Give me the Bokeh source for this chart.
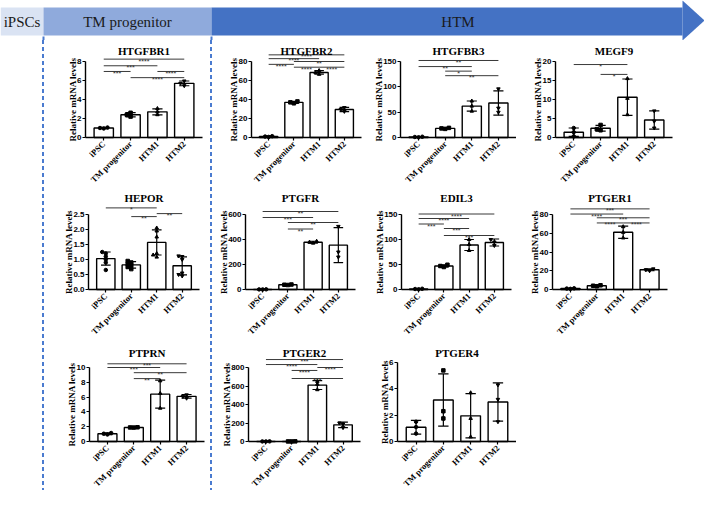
import math
import numpy as np
from bokeh.plotting import figure
from bokeh.models import Range1d, FixedTicker, PrintfTickFormatter, Label, Div, Spacer
from bokeh.layouts import row, column
from bokeh.core.properties import value
from bokeh.embed import file_html
from bokeh.resources import INLINE

# ---------------- data ----------------
categories = ["iPSC", "TM progenitor", "HTM1", "HTM2"]
stages = ["iPSCs", "TM progenitor", "HTM"]
stage_colors = ["#dae3f3", "#8faadc", "#4472c4"]
y_title = "Relative mRNA levels"

htgfbr1_mean = [1.0, 2.4, 2.7, 5.7]
htgfbr1_sd = [0.06, 0.22, 0.32, 0.25]
htgfbr1_points = [[0.95, 1.0, 1.05], [2.2, 2.4, 2.6], [2.4, 2.7, 3.05], [5.45, 5.7, 5.95]]
htgfbr1_ticks = [0, 2, 4, 6, 8]
htgfbr1_sig = [(1, 4, 8.25, "****"), (1, 3, 7.55, "***"), (1, 2, 6.95, "***"),
               (3, 4, 6.95, "****"), (2, 4, 6.3, "****")]

htgfbr2_mean = [1.0, 37.0, 68.5, 29.5]
htgfbr2_sd = [0.4, 1.0, 1.8, 2.2]
htgfbr2_points = [[0.6, 1.0, 1.4], [36.0, 37.0, 38.0], [66.5, 68.5, 70.5], [27.5, 29.5, 31.5]]
htgfbr2_ticks = [0, 20, 40, 60, 80]
htgfbr2_sig = [(1, 4, 87, "****"), (1, 3, 83, "****"), (2, 4, 80, "**"),
               (1, 2, 77, "****"), (2, 3, 74, "****"), (3, 4, 74, "****")]

htgfbr3_mean = [1.0, 18.0, 62.0, 68.0]
htgfbr3_sd = [0.5, 1.0, 10.0, 24.0]
htgfbr3_points = [[0.5, 1.0, 1.5], [17.0, 18.0, 19.0], [52.0, 62.0, 72.0], [50.0, 58.0, 96.0]]
htgfbr3_ticks = [0, 50, 100, 150]
htgfbr3_sig = [(1, 4, 152, "**"), (1, 3, 140, "**"), (2, 3, 131, "*"), (2, 4, 122, "**")]

megf9_mean = [1.4, 2.45, 10.6, 4.6]
megf9_sd = [1.1, 0.75, 4.8, 2.4]
megf9_points = [[0.3, 1.4, 2.5], [1.9, 2.2, 3.3], [6.0, 10.3, 15.5], [2.5, 4.3, 7.0]]
megf9_ticks = [0, 5, 10, 15, 20]
megf9_sig = [(1, 3, 19.2, "*"), (2, 3, 16.6, "*")]

hepor_mean = [1.03, 0.82, 1.57, 0.79]
hepor_sd = [0.22, 0.11, 0.42, 0.3]
hepor_points = [[0.65, 0.9, 1.0, 1.1, 1.2, 1.25], [0.68, 0.75, 0.8, 0.85, 0.9, 0.95],
                [1.08, 1.15, 1.2, 1.75, 1.95, 2.05], [0.45, 0.5, 0.55, 1.0, 1.1, 1.12]]
hepor_ticks = [0, 0.5, 1.0, 1.5, 2.0, 2.5]
hepor_sig = [(1, 3, 2.72, "*"), (3, 4, 2.53, "**"), (2, 3, 2.43, "**")]

ptgfr_mean = [1.0, 38.0, 378.0, 355.0]
ptgfr_sd = [0.5, 2.0, 8.0, 140.0]
ptgfr_points = [[0.5, 1.0, 1.5], [36.0, 38.0, 40.0], [371.0, 378.0, 386.0], [260.0, 300.0, 505.0]]
ptgfr_ticks = [0, 200, 400, 600]
ptgfr_sig = [(1, 4, 624, "**"), (1, 3, 576, "***"), (2, 4, 536, "**"), (2, 3, 484, "**")]

edil3_mean = [1.0, 47.0, 89.0, 94.0]
edil3_sd = [0.5, 2.5, 11.0, 7.0]
edil3_points = [[0.5, 1.0, 1.5], [45.0, 47.0, 49.5], [78.0, 90.0, 100.0], [88.0, 95.0, 100.0]]
edil3_ticks = [0, 50, 100, 150]
edil3_sig = [(1, 4, 151, "****"), (1, 3, 142, "****"), (1, 2, 131, "***"),
             (2, 3, 122, "***"), (2, 4, 108, "***")]

ptger1_mean = [1.0, 4.0, 61.0, 21.0]
ptger1_sd = [0.3, 0.6, 6.5, 1.0]
ptger1_points = [[0.7, 1.0, 1.3], [3.5, 4.0, 4.5], [55.0, 61.0, 67.0], [20.0, 21.0, 22.0]]
ptger1_ticks = [0, 20, 40, 60, 80]
ptger1_sig = [(1, 4, 86, "***"), (1, 3, 80.5, "****"), (2, 4, 76.5, "***"),
              (2, 3, 71, "****"), (3, 4, 71, "****")]

ptprn_mean = [1.05, 1.9, 6.4, 6.1]
ptprn_sd = [0.12, 0.03, 1.9, 0.25]
ptprn_points = [[0.95, 1.05, 1.15], [1.88, 1.9, 1.92], [4.5, 6.5, 8.2], [5.85, 6.1, 6.3]]
ptprn_ticks = [0, 2, 4, 6, 8, 10]
ptprn_sig = [(1, 4, 10.5, "***"), (1, 3, 10.0, "***"), (2, 4, 9.3, "**"), (2, 3, 8.5, "**")]

ptger2_mean = [1.0, 1.0, 610.0, 180.0]
ptger2_sd = [0.3, 0.3, 48.0, 30.0]
ptger2_points = [[0.5, 1.0, 1.5], [0.5, 1.0, 1.5], [560.0, 620.0, 650.0], [150.0, 190.0, 200.0]]
ptger2_ticks = [0, 200, 400, 600, 800]
ptger2_sig = [(1, 4, 886, "***"), (1, 3, 832, "****"), (3, 4, 800, "****"),
              (2, 3, 768, "****"), (2, 4, 681, "***")]

ptger4_mean = [1.08, 3.15, 1.95, 3.0]
ptger4_sd = [0.52, 1.98, 1.68, 1.45]
ptger4_points = [[0.6, 1.1, 1.5], [1.75, 2.3, 5.4], [0.35, 1.75, 3.7], [1.5, 3.2, 4.3]]
ptger4_ticks = [0, 2, 4, 6]
ptger4_sig = []

# ---------------- layout / style ----------------
SERIF = "Liberation Serif"
SANS = "Liberation Sans"
SPACER_W = 42
DASH_W = 2
COL_W = [166, 154, 150, 188]
HEADER_H = 40
ROW_H = [147, 155, 148]
ROW_ZERO = [97, 102, 99]
ROW_TOP = [21, 27, 25]
TOTAL_W = SPACER_W + 2 * DASH_W + sum(COL_W)
BODY_H = sum(ROW_H)
X_LO, X_HI = 0.32, 4.68
MARKERS = ["circle", "square", "triangle", "inverted_triangle"]
DASH_COLOR = "#4a7bd0"
YTICK_PX = 8.0


def spread(vals, span):
    order = np.argsort(vals)
    offs = [0.0] * len(vals)
    placed = []
    for k in order:
        v = vals[k]
        for o in (0.0, -0.14, 0.14, -0.28, 0.28):
            if all(abs(v - pv) > 0.035 * span or abs(o - po) > 0.12 for pv, po in placed):
                offs[k] = o
                break
        placed.append((v, offs[k]))
    return offs


def label_width(s):
    return sum((0.278 if ch == "." else 0.556) for ch in s) * YTICK_PX


def make_panel(name, mean, sd, points, ticks, sig, fmt, r, col_w, left, frame_w, top_px=None):
    height = ROW_H[r]
    zero = ROW_ZERO[r]
    top = ROW_TOP[r] if top_px is None else top_px
    # the whole canvas is the plotting frame; axes are pinned inside it
    sx = frame_w / (X_HI - X_LO)
    sy = (zero - top) / ticks[-1]
    x_range = Range1d(X_LO - left / sx, X_HI + (col_w - left - frame_w) / sx)
    y_range = Range1d(-(height - zero) / sy, zero / sy)
    p = figure(width=col_w, height=height, x_range=x_range, y_range=y_range,
               output_backend="svg", toolbar_location=None, title=None, min_border=0)
    p.xgrid.visible = False
    p.ygrid.visible = False
    p.outline_line_color = None
    p.background_fill_color = "white"
    p.border_fill_color = "white"

    xs = [1, 2, 3, 4]
    p.vbar(x=xs, top=mean, bottom=0, width=0.72, fill_color="white",
           line_color="black", line_width=1.4)
    lo = [m - s for m, s in zip(mean, sd)]
    hi = [m + s for m, s in zip(mean, sd)]
    p.segment(x0=xs, y0=lo, x1=xs, y1=hi, line_color="black", line_width=1.2)
    cx0 = [x - 0.19 for x in xs]
    cx1 = [x + 0.19 for x in xs]
    p.segment(x0=cx0, y0=hi, x1=cx1, y1=hi, line_color="black", line_width=1.2)
    p.segment(x0=cx0, y0=lo, x1=cx1, y1=lo, line_color="black", line_width=1.2)
    for i, pts in enumerate(points):
        offs = spread(pts, ticks[-1])
        p.scatter([xs[i] + o for o in offs], pts, marker=MARKERS[i], size=3.5,
                  color="black")
    if sig:
        a = [s[0] for s in sig]
        b = [s[1] for s in sig]
        yv = [s[2] for s in sig]
        lab = [s[3] for s in sig]
        p.segment(x0=a, y0=yv, x1=b, y1=yv, line_color="#222222", line_width=0.9)
        p.text(x=[(i + j) / 2 for i, j in zip(a, b)], y=yv, text=lab, text_align="center",
               text_baseline="alphabetic", y_offset=2, text_font=value(SANS),
               text_font_size="7px", text_color="#333333")
    p.add_layout(Label(x=2.5, y=y_range.end, text=name, text_align="center", text_baseline="top",
                       y_offset=-4, text_font=SERIF, text_font_style="bold",
                       text_font_size="11px", text_color="black"))
    wmax = max(label_width(fmt % t) for t in ticks)
    p.add_layout(Label(x=X_LO, y=ticks[-1] / 2, text=y_title, angle=math.pi / 2,
                       x_offset=-(wmax + 8.5), text_align="center", text_baseline="middle",
                       text_font=SERIF, text_font_style="bold", text_font_size="9px",
                       text_color="black"))

    xa = p.xaxis[0]
    xa.fixed_location = 0
    xa.bounds = (X_LO, X_HI)
    xa.ticker = FixedTicker(ticks=xs, minor_ticks=[])
    xa.major_label_overrides = {x: c for x, c in zip(xs, categories)}
    xa.major_label_orientation = math.pi / 4
    xa.major_label_text_font = SERIF
    xa.major_label_text_font_style = "bold"
    xa.major_label_text_font_size = "8.5px"
    xa.major_label_text_color = "black"
    xa.major_label_standoff = 2
    xa.axis_line_width = 1.4
    xa.axis_line_color = "black"
    xa.major_tick_out = 3
    xa.major_tick_in = 0
    xa.major_tick_line_width = 1.2
    xa.minor_tick_line_color = None

    ya = p.yaxis[0]
    ya.fixed_location = X_LO
    ya.bounds = (0, ticks[-1])
    ya.ticker = FixedTicker(ticks=ticks, minor_ticks=[])
    ya.formatter = PrintfTickFormatter(format=fmt)
    ya.major_label_text_font = SANS
    ya.major_label_text_font_style = "bold"
    ya.major_label_text_font_size = "%gpx" % YTICK_PX
    ya.major_label_text_color = "black"
    ya.major_label_standoff = 1
    ya.axis_line_width = 1.4
    ya.axis_line_color = "black"
    ya.major_tick_out = 3
    ya.major_tick_in = 0
    ya.major_tick_line_width = 1.2
    ya.minor_tick_line_color = None
    return p


p1 = make_panel("HTGFBR1", htgfbr1_mean, htgfbr1_sd, htgfbr1_points, htgfbr1_ticks, htgfbr1_sig, "%d", 0, COL_W[0], 41, 117)
p2 = make_panel("HTGFBR2", htgfbr2_mean, htgfbr2_sd, htgfbr2_points, htgfbr2_ticks, htgfbr2_sig, "%d", 0, COL_W[1], 39, 110)
p3 = make_panel("HTGFBR3", htgfbr3_mean, htgfbr3_sd, htgfbr3_points, htgfbr3_ticks, htgfbr3_sig, "%d", 0, COL_W[2], 34, 116)
p4 = make_panel("MEGF9", megf9_mean, megf9_sd, megf9_points, megf9_ticks, megf9_sig, "%d", 0, COL_W[3], 39, 117)
p5 = make_panel("HEPOR", hepor_mean, hepor_sd, hepor_points, hepor_ticks, hepor_sig, "%.1f", 1, COL_W[0], 44, 111)
p6 = make_panel("PTGFR", ptgfr_mean, ptgfr_sd, ptgfr_points, ptgfr_ticks, ptgfr_sig, "%d", 1, COL_W[1], 33, 110)
p7 = make_panel("EDIL3", edil3_mean, edil3_sd, edil3_points, edil3_ticks, edil3_sig, "%d", 1, COL_W[2], 35, 110)
p8 = make_panel("PTGER1", ptger1_mean, ptger1_sd, ptger1_points, ptger1_ticks, ptger1_sig, "%d", 1, COL_W[3], 36, 115)
p9 = make_panel("PTPRN", ptprn_mean, ptprn_sd, ptprn_points, ptprn_ticks, ptprn_sig, "%d", 2, COL_W[0], 45, 115)
p10 = make_panel("PTGER2", ptger2_mean, ptger2_sd, ptger2_points, ptger2_ticks, ptger2_sig, "%d", 2, COL_W[1], 36, 112)
p11 = make_panel("PTGER4", ptger4_mean, ptger4_sd, ptger4_points, ptger4_ticks, ptger4_sig, "%d", 2, COL_W[2], 31, 119, top_px=20)

# ---------------- header ----------------
hdr = figure(width=TOTAL_W, height=HEADER_H, x_range=Range1d(0, TOTAL_W), y_range=Range1d(0, HEADER_H),
             output_backend="svg", toolbar_location=None, title=None, min_border=0,
             x_axis_type=None, y_axis_type=None)
hdr.outline_line_color = None
b1 = SPACER_W + DASH_W / 2
b2 = b1 + DASH_W + COL_W[0]
head = TOTAL_W - 22
band_lo, band_hi = 5, 33
hdr.quad(left=[0, b1, b2], right=[b1, b2, head], bottom=band_lo, top=band_hi,
         fill_color=stage_colors, line_color=None)
hdr.patch([head, TOTAL_W, head], [0, HEADER_H / 2, HEADER_H], fill_color=stage_colors[2], line_color=None)
hdr.segment(x0=[b1, b2], y0=[0, 0], x1=[b1, b2], y1=[band_lo, band_lo], line_color=DASH_COLOR,
            line_width=2, line_dash="4 3")
hdr.text(x=[b1 / 2, (b1 + b2) / 2, (b2 + TOTAL_W) / 2], y=(band_lo + band_hi) / 2, text=stages,
         text_align="center", text_baseline="middle", text_font=value(SERIF),
         text_font_size="15px", text_color="#1a1a1a")


def dash_div():
    return Div(text="", width=DASH_W, height=BODY_H, margin=(0, 0, 0, 0),
               styles={"background-image": "repeating-linear-gradient(to bottom, %s 0px, %s 4px, transparent 4px, transparent 7px)" % (DASH_COLOR, DASH_COLOR)})


col1 = column(p1, p5, p9)
col2 = column(p2, p6, p10)
col3 = column(p3, p7, p11)
col4 = column(p4, p8, Spacer(width=COL_W[3], height=ROW_H[2], margin=(0, 0, 0, 0)))
body = row(Spacer(width=SPACER_W, height=BODY_H, margin=(0, 0, 0, 0)), dash_div(), col1, dash_div(),
           col2, col3, col4)
layout = column(hdr, body)

open("out.html", "w").write(file_html(layout, INLINE))
